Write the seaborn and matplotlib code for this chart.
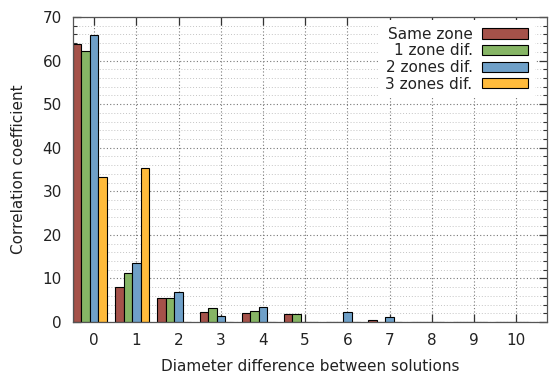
import numpy as np
import pandas as pd
import matplotlib
matplotlib.use("Agg")
import matplotlib.pyplot as plt
import seaborn as sns
from matplotlib.ticker import MultipleLocator

categories = [str(i) for i in range(11)]
series_names = ["Same zone", "1 zone dif.", "2 zones dif.", "3 zones dif."]
same_zone = [63.9, 8.1, 5.4, 2.2, 2.0, 1.8, 0.05, 0.45, 0, 0, 0]
one_zone = [62.1, 11.2, 5.4, 3.1, 2.5, 1.8, 0.1, 0, 0, 0, 0]
two_zones = [65.9, 13.6, 6.8, 1.3, 3.4, 0, 2.4, 1.15, 0, 0, 0]
three_zones = [33.3, 35.3, 0, 0, 0, 0, 0, 0, 0, 0, 0]
colors = ["#A5524A", "#86B565", "#6FA0C8", "#FFBB3C"]

rows = []
for name, vals in zip(series_names, [same_zone, one_zone, two_zones, three_zones]):
    for c, v in zip(categories, vals):
        rows.append({"cat": c, "series": name, "value": v})
df = pd.DataFrame(rows)

sns.set_style("white")
plt.rcParams["font.family"] = ["DejaVu Sans"]
plt.rcParams["font.size"] = 11

fig = plt.figure(figsize=(5.53, 3.75), dpi=100)
ax = fig.add_axes([73 / 553, 53 / 375, 474 / 553, 305 / 375])

sns.barplot(data=df, x="cat", y="value", hue="series", order=categories,
            hue_order=series_names, palette=colors, saturation=1,
            edgecolor="black", linewidth=0.8, width=0.8, ax=ax, errorbar=None)

ax.set_ylim(0, 70)
ax.set_xlim(-0.4, 10.83)
ax.set_xticks(np.arange(11) + 0.1)
ax.set_xticklabels(categories)
ax.yaxis.set_major_locator(MultipleLocator(10))
ax.yaxis.set_minor_locator(MultipleLocator(2))

ax.set_axisbelow(True)
ax.grid(True, which="major", axis="both", color="#777777", linestyle=(0, (1, 2)), linewidth=0.8)
ax.grid(True, which="minor", axis="y", color="#c4c4c4", linestyle=(0, (1, 2)), linewidth=0.7)

for s in ax.spines.values():
    s.set_color("#555555")
    s.set_linewidth(0.9)
    s.set_visible(True)

ax.tick_params(axis="both", which="major", direction="in", length=6, width=0.9,
               color="#333333", top=True, right=True, bottom=True, left=True,
               labelcolor="#222222", labelsize=11, pad=8)
ax.tick_params(axis="y", which="minor", direction="in", length=3, width=0.8,
               color="#333333", left=True, right=True)
ax.tick_params(axis="x", which="minor", bottom=False, top=False)

ax.set_xlabel("Diameter difference between solutions", fontsize=11, color="#222222", labelpad=8)
ax.set_ylabel("Correlation coefficient", fontsize=11, color="#222222", labelpad=12)

handles, labels = ax.get_legend_handles_labels()
leg = ax.legend(handles, labels, loc="upper right", bbox_to_anchor=(0.975, 0.99),
                borderaxespad=0, frameon=True, fancybox=False, facecolor="white",
                edgecolor="none", framealpha=1, markerfirst=False,
                handlelength=3.0, handleheight=0.65, handletextpad=0.65,
                labelspacing=0.1, borderpad=0.45, fontsize=11)
for t in leg.get_texts():
    t.set_color("#222222")

fig.savefig("out.png", dpi=100)
